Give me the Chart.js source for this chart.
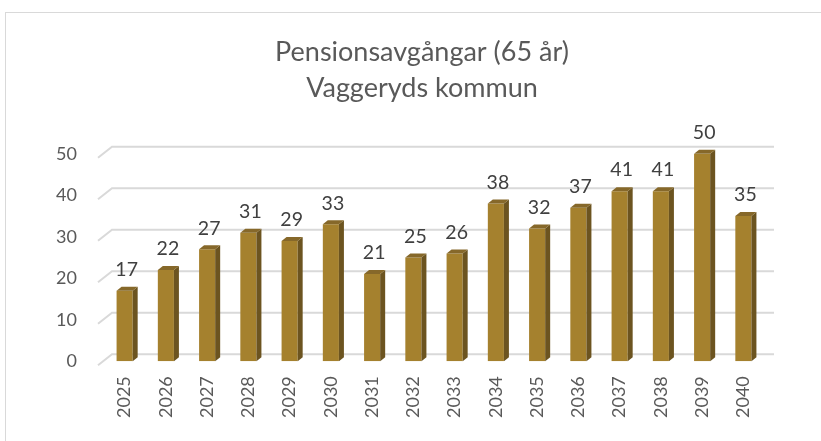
<!DOCTYPE html>
<html>
<head>
<meta charset="utf-8">
<script src="https://cdn.jsdelivr.net/npm/chart.js@4/dist/chart.umd.min.js"></script>
<style>
    html, body { margin: 0; padding: 0; background: #fff; }
    .wrap { position: relative; width: 821px; height: 441px; overflow: hidden; }
    .frame { position: absolute; left: 5px; top: 12px; width: 900px; height: 500px; border: 1px solid #d9d9d9; }
    canvas { position: absolute; left: 0; top: 0; }
</style>
</head>
<body>
<div class="wrap">
    <div class="frame"></div>
    <canvas id="chart" width="821" height="441"></canvas>
</div>
<script>
// Data
const years = ['2025', '2026', '2027', '2028', '2029', '2030', '2031', '2032',
               '2033', '2034', '2035', '2036', '2037', '2038', '2039', '2040'];
const retirements = [17, 22, 27, 31, 29, 33, 21, 25, 26, 38, 32, 37, 41, 41, 50, 35];
const yTicks = [0, 10, 20, 30, 40, 50];
const titleLines = ['Pensionsavgångar (65 år)', 'Vaggeryds kommun'];

// Colours
const faceColor = '#a5812e';
const sideColor = '#6c5420';
const topColor = '#86682a';
const gridColor = '#d9d9d9';
const textColor = '#595959';

// Back wall gridlines + floor diagonals (3D look)
const wallPlugin = {
    id: 'wall',
    beforeDatasetsDraw(chart) {
        const ctx = chart.ctx;
        const area = chart.chartArea;
        const y = chart.scales.y;
        ctx.save();
        ctx.strokeStyle = gridColor;
        ctx.lineWidth = 2;
        yTicks.forEach(v => {
            const py = y.getPixelForValue(v);
            ctx.beginPath();
            ctx.moveTo(area.left - 6, py + 4);
            ctx.lineTo(area.left + 8, py - 7);
            ctx.lineTo(area.right + 10, py - 7);
            ctx.stroke();
        });
        ctx.restore();
    }
};

// Side and top faces of each bar, plus value labels
const barPlugin = {
    id: 'bar3d',
    afterDatasetsDraw(chart) {
        const ctx = chart.ctx;
        const meta = chart.getDatasetMeta(0);
        const dx = 5, dy = 4;
        ctx.save();
        meta.data.forEach((bar, i) => {
            const half = bar.width / 2;
            const l = bar.x - half, r = bar.x + half;
            const t = bar.y, b = bar.base;
            // side
            ctx.fillStyle = sideColor;
            ctx.beginPath();
            ctx.moveTo(r, t);
            ctx.lineTo(r + dx, t - dy);
            ctx.lineTo(r + dx, b - dy);
            ctx.lineTo(r, b);
            ctx.closePath();
            ctx.fill();
            // top
            ctx.fillStyle = topColor;
            ctx.beginPath();
            ctx.moveTo(l, t);
            ctx.lineTo(l + dx, t - dy);
            ctx.lineTo(r + dx, t - dy);
            ctx.lineTo(r, t);
            ctx.closePath();
            ctx.fill();
            // label
            ctx.fillStyle = '#404040';
            ctx.font = '19.5px Lato';
            ctx.textAlign = 'center';
            ctx.textBaseline = 'middle';
            ctx.fillText(String(retirements[i]), bar.x + 2, t - 21);
        });
        ctx.restore();
    }
};

new Chart(document.getElementById('chart'), {
    type: 'bar',
    data: {
        labels: years,
        datasets: [{
            data: retirements,
            backgroundColor: faceColor,
            borderWidth: 0,
            barPercentage: 0.39,
            categoryPercentage: 1
        }]
    },
    options: {
        responsive: false,
        animation: false,
        devicePixelRatio: 1,
        layout: {
            padding: { left: 30, right: 7, top: 0, bottom: 8 }
        },
        plugins: {
            legend: { display: false },
            tooltip: { enabled: false },
            title: {
                display: true,
                text: titleLines,
                color: textColor,
                font: { family: 'Lato', size: 27, weight: 'normal', lineHeight: 1.33 },
                padding: { top: 34, bottom: 48 }
            }
        },
        scales: {
            x: {
                grid: { display: false, drawTicks: false },
                border: { display: false },
                ticks: {
                    color: textColor,
                    font: { family: 'Lato', size: 18 },
                    minRotation: 90,
                    maxRotation: 90,
                    padding: 15,
                    autoSkip: false
                }
            },
            y: {
                min: 0,
                max: 50,
                grid: { display: false, drawTicks: false },
                border: { display: false },
                afterFit(scale) { scale.width = 74; },
                ticks: {
                    stepSize: 10,
                    color: textColor,
                    font: { family: 'Lato', size: 18 },
                    padding: 27
                }
            },
            // empty right axis, only reserves room so the title stays centred like the original
            yRight: {
                position: 'right',
                min: 0,
                max: 50,
                grid: { display: false, drawTicks: false },
                border: { display: false },
                ticks: { display: false },
                afterFit(scale) { scale.width = 50; }
            }
        }
    },
    plugins: [wallPlugin, barPlugin]
});
</script>
</body>
</html>
